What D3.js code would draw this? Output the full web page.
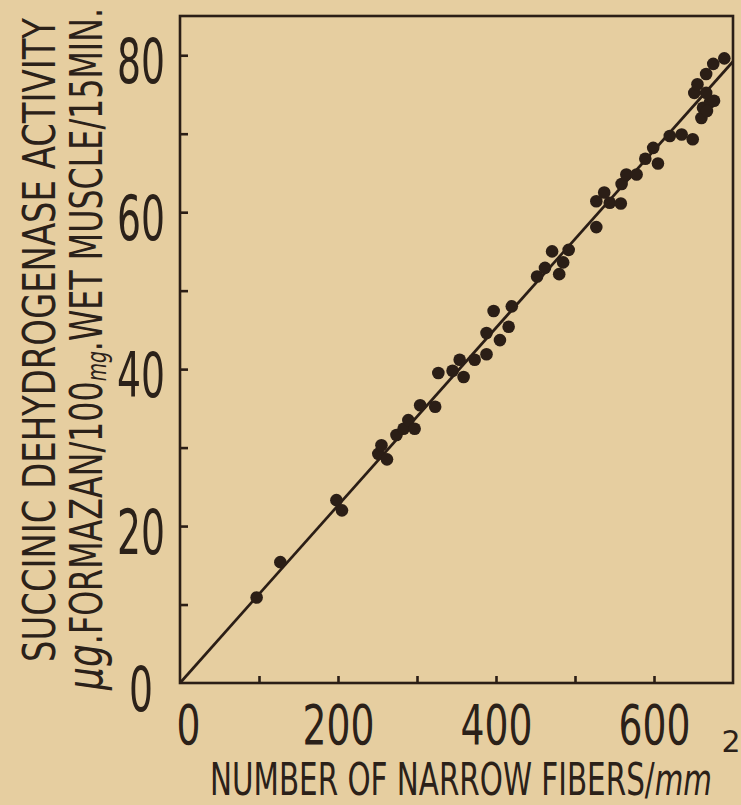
<!DOCTYPE html>
<html>
<head>
<meta charset="utf-8">
<script src="https://cdn.jsdelivr.net/npm/d3@7"></script>
<style>
  html, body { margin: 0; padding: 0; background: #e6cea0; }
  svg { display: block; }
  text { fill: #2b2119; font-family: "DejaVu Sans", sans-serif; }
</style>
</head>
<body>
<svg class="root"></svg>
<script>
// fibers / mm2 vs succinic dehydrogenase activity
var fibers = [97, 127, 198, 205, 251, 255, 262, 274, 283, 289, 297, 304, 323, 327, 345,
  354, 359, 373, 388, 388, 397, 405, 416, 420, 452, 462, 471, 480, 485, 492,
  527, 527, 537, 544, 558, 559, 565, 578, 589, 599, 605, 620, 635, 649, 660,
  662, 651, 655, 666, 671, 676, 666, 675, 689, 667];
var activity = [10.9, 15.4, 23.3, 22.0, 29.2, 30.3, 28.5, 31.6, 32.4, 33.5, 32.4, 35.4, 35.2, 39.5, 39.8,
  41.2, 39.0, 41.2, 41.9, 44.6, 47.4, 43.7, 45.4, 48.0, 51.8, 52.9, 55.0, 52.1, 53.6, 55.2,
  58.1, 61.4, 62.5, 61.2, 61.1, 63.6, 64.8, 64.8, 66.8, 68.2, 66.2, 69.7, 69.9, 69.3, 72.0,
  73.3, 75.2, 76.3, 77.6, 74.0, 74.2, 75.2, 78.9, 79.6, 72.9];

// fitted line through the origin
var fitX = [0, 700];
var fitY = [0, 79.2];

var xTicks = [100, 200, 300, 400, 500, 600];
var xLabels = [0, 200, 400, 600];
var yTicks = [10, 20, 30, 40, 50, 60, 70, 80];
var yLabels = [0, 20, 40, 60, 80];

var width = 741, height = 805;
var ink = "#2b1e16";

var svg = d3.select(".root")
    .attr("width", width)
    .attr("height", height);

var x = d3.scaleLinear().domain([0, 700]).range([180, 733]);
var y = d3.scaleLinear().domain([0, 85]).range([683, 16]);

// frame
svg.append("rect")
    .attr("x", x(0))
    .attr("y", y(85))
    .attr("width", x(700) - x(0))
    .attr("height", y(0) - y(85))
    .attr("fill", "none")
    .attr("stroke", ink)
    .attr("stroke-width", 2.6);

// inward tick marks
var xTickAxis = svg.append("g")
    .attr("transform", "translate(0," + y(0) + ")")
    .call(d3.axisBottom(x).tickValues(xTicks).tickSize(-7).tickFormat(""));
var yTickAxis = svg.append("g")
    .attr("transform", "translate(" + x(0) + ",0)")
    .call(d3.axisLeft(y).tickValues(yTicks).tickSize(-8).tickFormat(""));
[xTickAxis, yTickAxis].forEach(function(g) {
  g.select(".domain").remove();
  g.selectAll("line").attr("stroke", ink).attr("stroke-width", 2.6);
});

// tick labels
var xLab = svg.append("g")
    .attr("transform", "translate(0," + y(0) + ")")
    .call(d3.axisBottom(x).tickValues(xLabels).tickSize(0).tickPadding(22));
xLab.select(".domain").remove();
xLab.selectAll("text")
    .attr("font-size", 55)
    .attr("font-family", "DejaVu Sans")
    .attr("fill", ink)
    .attr("x", function(d) { return d === 0 ? 8 : 0; })
    .attr("textLength", function(d) { return String(d).length * 24; })
    .attr("lengthAdjust", "spacingAndGlyphs");

var yLab = svg.append("g")
    .attr("transform", "translate(" + x(0) + ",0)")
    .call(d3.axisLeft(y).tickValues(yLabels).tickSize(0));
yLab.select(".domain").remove();
yLab.selectAll("text")
    .attr("font-size", 62)
    .attr("font-family", "DejaVu Sans")
    .attr("fill", ink)
    .attr("text-anchor", "middle")
    .attr("x", -39)
    .attr("dy", "0.44em")
    .attr("textLength", function(d) { return String(d).length * 24; })
    .attr("lengthAdjust", "spacingAndGlyphs");

// regression line
var line = d3.line()
    .x(function(d) { return x(d[0]); })
    .y(function(d) { return y(d[1]); });
svg.append("path")
    .datum(d3.zip(fitX, fitY))
    .attr("d", line)
    .attr("fill", "none")
    .attr("stroke", ink)
    .attr("stroke-width", 2.7);

// points
svg.selectAll(".dot")
    .data(d3.zip(fibers, activity))
  .enter().append("circle")
    .attr("class", "dot")
    .attr("cx", function(d) { return x(d[0]); })
    .attr("cy", function(d) { return y(d[1]); })
    .attr("r", 6.3)
    .attr("fill", ink);

// y titles (narrow lettering: smaller font stretched tall)
svg.append("text")
    .attr("transform", "translate(55,340) rotate(-90) scale(1,1.33)")
    .attr("text-anchor", "middle")
    .attr("font-size", 33.8)
    .attr("textLength", 644)
    .attr("lengthAdjust", "spacingAndGlyphs")
    .text("SUCCINIC DEHYDROGENASE ACTIVITY");

var t2 = svg.append("text")
    .attr("transform", "translate(102,349) rotate(-90) scale(1,1.43)")
    .attr("text-anchor", "middle")
    .attr("font-size", 30.8)
    .attr("textLength", 682)
    .attr("lengthAdjust", "spacingAndGlyphs");
t2.append("tspan").attr("font-style", "italic").attr("font-size", 35).text("μg");
t2.append("tspan").text(".FORMAZAN/100");
t2.append("tspan").attr("font-style", "italic").attr("font-size", 18.2).attr("dy", 3).text("mg");
t2.append("tspan").attr("dy", -3).text(".WET MUSCLE/15MIN.");

// x title
var t3 = svg.append("text")
    .attr("transform", "translate(210,795) scale(1,1.57)")
    .attr("font-size", 28)
    .attr("textLength", 502)
    .attr("lengthAdjust", "spacingAndGlyphs");
t3.append("tspan").text("NUMBER OF NARROW FIBERS/");
t3.append("tspan").attr("font-style", "italic").text("mm");

svg.append("text")
    .attr("x", 731)
    .attr("y", 752)
    .attr("text-anchor", "middle")
    .attr("font-size", 30)
    .text("2");
</script>
</body>
</html>
